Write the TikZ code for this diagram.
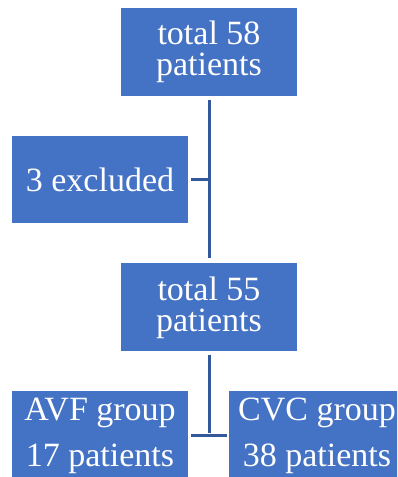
\documentclass[tikz,border=0pt]{standalone}
\usepackage{fontspec}
\setmainfont{Liberation Serif}
\newfontfamily\flowfont{Liberation Serif}
\usetikzlibrary{positioning,calc}
\definecolor{boxblue}{RGB}{68,114,196}
\definecolor{linkblue}{RGB}{52,88,156}

\begin{document}
\begin{tikzpicture}[x=1pt,y=1pt,
    box/.style={fill=boxblue,text=white,align=center,inner sep=0pt,
      minimum width=176,minimum height=88,font=\flowfont\fontsize{34}{31}\selectfont},
    lowbox/.style={box,font=\flowfont\fontsize{34}{46}\selectfont},
    link/.style={draw=linkblue,line width=3pt}]
  % page is 397 x 477, the bottom boxes run off the lower and right edges
  \useasboundingbox (0,0) rectangle (397,477);
  \clip (0,0) rectangle (397,477);
  \node[box] (all58) at (209,425) {total 58\\patients};
  \node[box,minimum height=87] (excl) at (100,297.5) {3 excluded};
  \node[box] (all55) at (209,169.5) {total 55\\patients};
  \node[lowbox] (avf) at (100,41.5) {AVF group\\17 patients};
  \node[lowbox] (cvc) at (317,41.5) {CVC group\\38 patients};
  \coordinate (split) at (all58.south |- excl.east);
  \coordinate (fork) at (all55.south |- 0,44);
  \draw[link,shorten <=4pt,shorten >=5pt] (all58.south) -- (all55.north);
  \draw[link,shorten <=3pt] (excl.east) -- (split);
  \draw[link,shorten <=3pt] (all55.south) -- (fork);
  \draw[link,shorten <=3pt,shorten >=2pt] (avf.east) -- (cvc.west);
\end{tikzpicture}
\end{document}
